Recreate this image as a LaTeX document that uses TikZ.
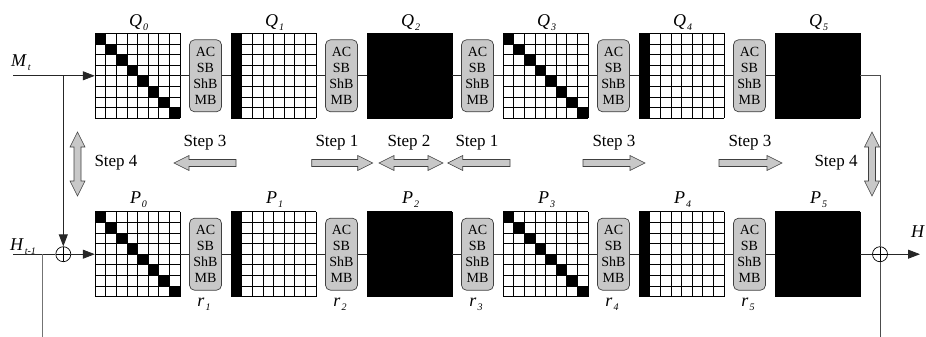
\documentclass[tikz,border=0pt]{standalone}
\usepackage{fontspec}
\setmainfont{Liberation Serif}
\usetikzlibrary{arrows.meta}
\definecolor{blkgray}{RGB}{200,200,200}
\newcommand{\drawgrid}[3]{%
  \ifcase#1\relax
    \foreach \k in {0,...,7}{\fill ({#2+\k*10.625},{#3+\k*10.625}) rectangle ++(10.625,10.625);}
  \or
    \fill ({#2},{#3}) rectangle ++(10.625,85);
  \or
    \fill ({#2},{#3}) rectangle ++(85,85);
  \fi
  \foreach \k in {0,...,8}{\draw[gridline] ({#2+\k*10.625},{#3}) -- ++(0,85); \draw[gridline] ({#2},{#3+\k*10.625}) -- ++(85,0);}
}
\newcommand{\harrR}[3]{\draw[blk] ({#1},{#3-3.5}) -- ({#2-15},{#3-3.5}) -- ({#2-15},{#3-7.5}) -- ({#2},{#3}) -- ({#2-15},{#3+7.5}) -- ({#2-15},{#3+3.5}) -- ({#1},{#3+3.5}) -- cycle;}
\newcommand{\harrL}[3]{\draw[blk] ({#2},{#3-3.5}) -- ({#1+15},{#3-3.5}) -- ({#1+15},{#3-7.5}) -- ({#1},{#3}) -- ({#1+15},{#3+7.5}) -- ({#1+15},{#3+3.5}) -- ({#2},{#3+3.5}) -- cycle;}
\newcommand{\harrD}[3]{\draw[blk] ({#1},{#3}) -- ({#1+15},{#3-7.5}) -- ({#1+15},{#3-3.5}) -- ({#2-15},{#3-3.5}) -- ({#2-15},{#3-7.5}) -- ({#2},{#3}) -- ({#2-15},{#3+7.5}) -- ({#2-15},{#3+3.5}) -- ({#1+15},{#3+3.5}) -- ({#1+15},{#3+7.5}) -- cycle;}
\newcommand{\varrD}[3]{\draw[blk] ({#1},{#2}) -- ({#1+7.5},{#2+15}) -- ({#1+3.5},{#2+15}) -- ({#1+3.5},{#3-15}) -- ({#1+7.5},{#3-15}) -- ({#1},{#3}) -- ({#1-7.5},{#3-15}) -- ({#1-3.5},{#3-15}) -- ({#1-3.5},{#2+15}) -- ({#1-7.5},{#2+15}) -- cycle;}
\newcommand{\lbl}[2]{\textit{#1}\kern1pt\raisebox{-4pt}{\fontsize{10}{10}\selectfont\textit{#2}}}
\tikzset{
  gridline/.style={line width=0.75pt,black},
  gridnode/.style={rectangle,minimum size=85,inner sep=0,draw=none},
  opbox/.style={rectangle,rounded corners=5,draw=black!75,fill=blkgray,line width=0.7pt,minimum width=32,minimum height=72,inner sep=0,align=center,font=\fontsize{14}{16}\selectfont},
  blk/.style={draw=black!75,fill=blkgray,line width=0.6pt},
  wire/.style={line width=0.8pt,black!85},
  arr/.style={wire,-{Triangle[length=12pt,width=9pt]}},
  oplus/.style={circle,draw,line width=0.7pt,minimum size=15,inner sep=0,fill=white,path picture={\draw[line width=0.7pt] (path picture bounding box.north)--(path picture bounding box.south) (path picture bounding box.west)--(path picture bounding box.east);}},
  lab/.style={font=\fontsize{18}{20}\selectfont,anchor=base,inner sep=0},
  steplab/.style={font=\fontsize{17}{20}\selectfont,anchor=base,inner sep=0}
}
\begin{document}
\begin{tikzpicture}[x=1pt,y=-1pt]
\useasboundingbox (0,0) rectangle (926,337);
% grids
\foreach \i/\t in {0/0,1/1,2/2,3/0,4/1,5/2}{
  \drawgrid{\t}{95+136*\i}{33.3}
  \drawgrid{\t}{95+136*\i}{211.7}
  \node[gridnode] (q\i) at ({137.5+136*\i},75.8) {};
  \node[gridnode] (p\i) at ({137.5+136*\i},254.2) {};
  \node[lab] (ql\i) at ({138.5+136*\i},27) {\lbl{Q}{\i}};
  \node[lab] (pl\i) at ({138.5+136*\i},203) {\lbl{P}{\i}};
}
% operation boxes
\foreach \i in {1,...,5}{
  \node[opbox] (b\i) at ({205.5+136*(\i-1)},75.8) {AC\\SB\\ShB\\MB};
  \node[opbox] (c\i) at ({205.5+136*(\i-1)},254.2) {AC\\SB\\ShB\\MB};
  \node[lab] (rl\i) at ({204+136*(\i-1)},306) {\lbl{r}{\i}};
}
% wires between
\foreach \i [evaluate=\i as \j using int(\i-1)] in {1,...,5}{
  \draw[wire] (q\j.east) -- (b\i.west);
  \draw[wire] (b\i.east) -- (q\i.west);
  \draw[wire] (p\j.east) -- (c\i.west);
  \draw[wire] (c\i.east) -- (p\i.west);
}
% left side
\coordinate (mstart) at (13,75.8);
\coordinate (mj) at (63.3,75.8);
\node[oplus] (plus1) at (63.3,254.2) {};
\coordinate (hstart) at (13,254.2);
\coordinate (hj) at (42.7,254.2);
\coordinate (hbot) at (42.7,337);
\draw[arr] (mstart) -- (q0.west);
\draw[arr] (mj) -- (plus1.north);
\draw[wire] (hstart) -- (plus1.west);
\draw[arr] (plus1.east) -- (p0.west);
\draw[line width=0.8pt,black!55] (hj) -- (hbot);
\node[lab] (mlab) at (21,66.7) {\lbl{M}{t}};
\node[lab] (hlab) at (23,250) {\lbl{H}{t-1}};
% right side
\coordinate (rt) at (880,75.8);
\node[oplus] (plus2) at (880,254.2) {};
\coordinate (rb) at (880,337);
\coordinate (hend) at (920,254.2);
\draw[wire,black!70] (q5.east) -- (rt) -- (plus2.north);
\draw[wire,black!70] (plus2.south) -- (rb);
\draw[wire] (p5.east) -- (plus2.west);
\draw[arr] (plus2.east) -- (hend);
\node[lab,anchor=base west] (hout) at (911,237) {\textit{H}};
% step arrows
\harrL{174}{236}{163}
\harrR{311.7}{372.7}{163}
\harrD{379}{443}{163}
\harrL{447.7}{510}{163}
\harrR{583}{645}{163}
\harrR{719}{782}{163}
\varrD{77.5}{132}{196}
\varrD{872}{132}{196}
% step labels
\node[steplab] (s1) at (205,146) {Step 3};
\node[steplab] (s2) at (116,166) {Step 4};
\node[steplab] (s3) at (337,146) {Step 1};
\node[steplab] (s4) at (409,146) {Step 2};
\node[steplab] (s5) at (477,146) {Step 1};
\node[steplab] (s6) at (614,146) {Step 3};
\node[steplab] (s7) at (750,146) {Step 3};
\node[steplab] (s8) at (836,166) {Step 4};
\end{tikzpicture}
\end{document}
